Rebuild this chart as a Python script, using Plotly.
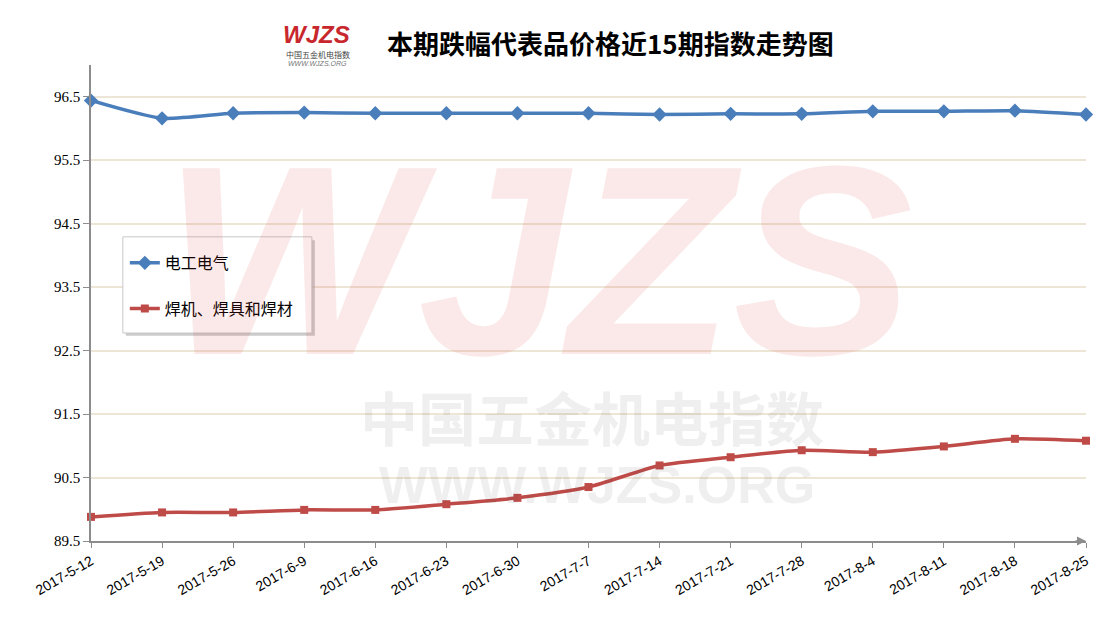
import plotly.graph_objects as go

dates = ['2017-5-12', '2017-5-19', '2017-5-26', '2017-6-9', '2017-6-16', '2017-6-23', '2017-6-30',
         '2017-7-7', '2017-7-14', '2017-7-21', '2017-7-28', '2017-8-4', '2017-8-11', '2017-8-18', '2017-8-25']
electrical = [96.44, 96.16, 96.24, 96.25, 96.24, 96.24, 96.24, 96.24, 96.22, 96.23, 96.23, 96.27, 96.27, 96.28, 96.22]
welding = [89.88, 89.95, 89.95, 89.99, 89.99, 90.08, 90.18, 90.35, 90.69, 90.82, 90.93, 90.90, 90.99, 91.11, 91.08]

names = ['电工电气', '焊机、焊具和焊材']
colors = ['#4a7ebb', '#be4b48']
ticks_y = [89.5, 90.5, 91.5, 92.5, 93.5, 94.5, 95.5, 96.5]

x_idx = list(range(len(dates)))

fig = go.Figure()
fig.add_trace(go.Scatter(
    x=x_idx, y=electrical, name=names[0], mode='lines+markers', legendgroup='a',
    line=dict(color=colors[0], width=3.5, shape='spline', smoothing=0.6),
    marker=dict(symbol='diamond', size=11, color=colors[0]),
    cliponaxis=False,
))
fig.add_trace(go.Scatter(
    x=x_idx, y=welding, name=names[1], mode='lines+markers', legendgroup='b',
    line=dict(color=colors[1], width=3.5, shape='spline', smoothing=0.6),
    marker=dict(symbol='square', size=8, color=colors[1]),
    cliponaxis=False,
))

# page body adds 8px offset, plot area in screen px: x 91..1086, y 65..541
annotations = [
    # title
    dict(xref='paper', yref='paper', x=0.522, y=1.0, yshift=23, xanchor='center', yanchor='middle',
         text='<b>本期跌幅代表品价格近15期指数走势图</b>', showarrow=False,
         font=dict(family='Noto Sans CJK SC', size=26, color='#000000')),
    # logo
    dict(xref='paper', yref='paper', x=0.227, y=1.0, yshift=31, xanchor='center', yanchor='middle',
         text='<b><i>WJZS</i></b>', showarrow=False,
         font=dict(family='Liberation Sans', size=24, color='#c8282d')),
    dict(xref='paper', yref='paper', x=0.228, y=1.0, yshift=11, xanchor='center', yanchor='middle',
         text='中国五金机电指数', showarrow=False,
         font=dict(family='Noto Sans CJK SC', size=8, color='#444444')),
    dict(xref='paper', yref='paper', x=0.228, y=1.0, yshift=2, xanchor='center', yanchor='middle',
         text='<i>WWW.WJZS.ORG</i>', showarrow=False,
         font=dict(family='Liberation Sans', size=7, color='#777777')),
    # watermark
    dict(xref='paper', yref='paper', x=0.45, y=0.59, xanchor='center', yanchor='middle',
         text='<b><i>WJZS</i></b>', showarrow=False, opacity=0.1,
         font=dict(family='Liberation Sans', size=270, color='#e03030')),
    dict(xref='paper', yref='paper', x=0.504, y=0.262, xanchor='center', yanchor='middle',
         text='<b>中国五金机电指数</b>', showarrow=False, opacity=0.09,
         font=dict(family='Noto Sans CJK SC', size=58, color='#555555')),
    dict(xref='paper', yref='paper', x=0.509, y=0.118, xanchor='center', yanchor='middle',
         text='<b>WWW.WJZS.ORG</b>', showarrow=False, opacity=0.09,
         font=dict(family='Liberation Sans', size=52, color='#555555')),
    # x-axis arrow
    dict(x=14, y=89.5, xref='x', yref='y', text='', showarrow=True, ax=-12, ay=0,
         arrowhead=2, arrowsize=1.2, arrowwidth=1.5, arrowcolor='#8c8c8c'),
]

fig.update_layout(
    width=1107, height=624,
    paper_bgcolor='white', plot_bgcolor='white',
    margin=dict(l=83, r=29, t=57, b=91),
    showlegend=True,
    legend=dict(
        x=0.034, y=0.62, xanchor='left', yanchor='top',
        bgcolor='rgba(0,0,0,0)', borderwidth=0,
        font=dict(family='Noto Sans CJK SC', size=16, color='#000000'),
        traceorder='grouped', tracegroupgap=22,
    ),
    annotations=annotations,
    shapes=[
        dict(type='rect', xref='paper', yref='paper', x0=0.035, x1=0.225, y0=0.431, y1=0.632,
             fillcolor='#a0a0a0', line=dict(width=0), opacity=0.55, layer='above'),
        dict(type='rect', xref='paper', yref='paper', x0=0.032, x1=0.222, y0=0.437, y1=0.639,
             fillcolor='white', line=dict(color='#c8c8c8', width=1), layer='above'),
    ],
    xaxis=dict(
        range=[0, 14], tickmode='array', tickvals=x_idx, ticktext=dates,
        tickangle=-30, ticks='outside', ticklen=5, tickcolor='#8c8c8c', automargin=False,
        showgrid=False, zeroline=False, showline=True, linecolor='#8c8c8c', linewidth=1.5,
        tickfont=dict(family='Liberation Sans', size=14, color='#000000'),
    ),
    yaxis=dict(
        range=[89.5, 97.0], tickmode='array', tickvals=ticks_y,
        ticktext=[f'{v:.1f}' for v in ticks_y], automargin=False,
        ticks='outside', ticklen=6, tickcolor='#8c8c8c',
        showgrid=True, gridcolor='#ede6d6', gridwidth=1.5, zeroline=False,
        showline=True, linecolor='#8c8c8c', linewidth=1.5,
        tickfont=dict(family='Liberation Serif', size=15, color='#000000'),
    ),
)

fig.write_html("out.html")
